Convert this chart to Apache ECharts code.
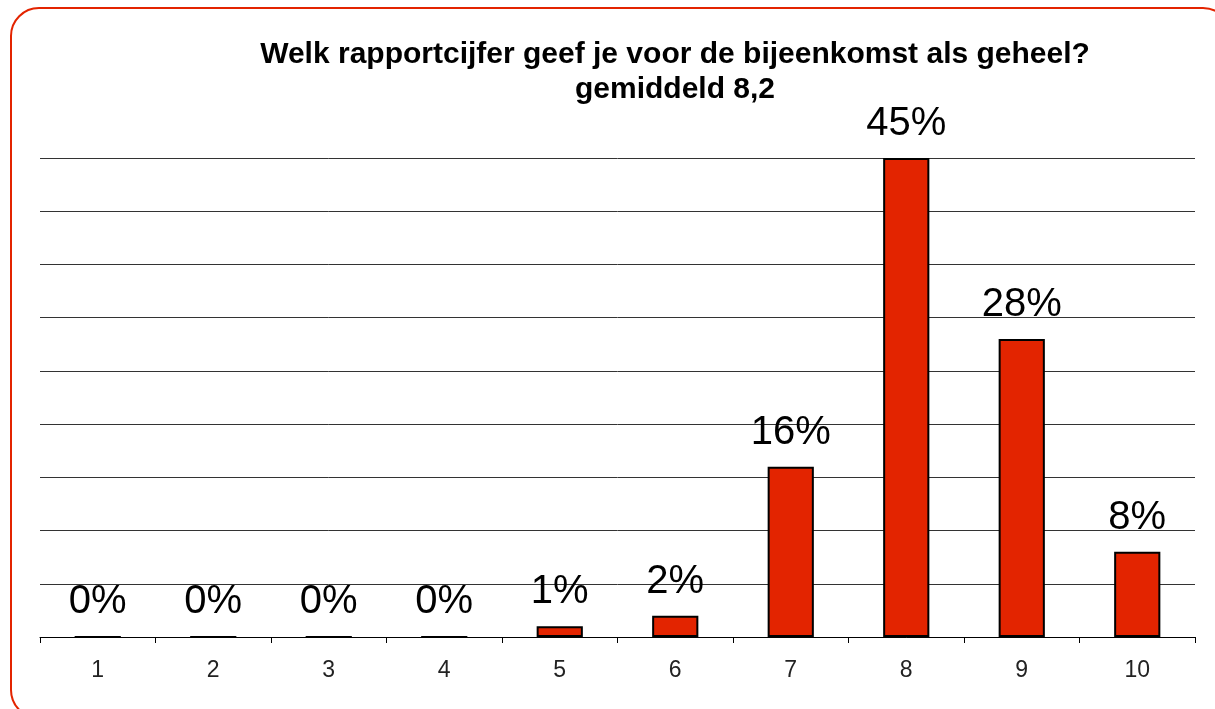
<!DOCTYPE html>
<html>
<head>
<meta charset="utf-8">
<script src="https://cdn.jsdelivr.net/npm/echarts@6/dist/echarts.min.js"></script>
<style>
    html, body { margin: 0; padding: 0; background: #fff; }
    #chart { width: 1215px; height: 709px; }
</style>
</head>
<body>
<div id="chart"></div>
<script>
    // rapportcijfers en percentages
    var categories = ['1', '2', '3', '4', '5', '6', '7', '8', '9', '10'];
    var percentages = [0, 0, 0, 0, 1, 2, 16, 45, 28, 8];
    var titleText = 'Welk rapportcijfer geef je voor de bijeenkomst als geheel?\ngemiddeld 8,2';

    var chart = echarts.init(document.getElementById('chart'));
    var option = {
        animation: false,
        backgroundColor: '#fff',
        title: {
            text: titleText,
            left: 670,
            top: 32,
            textAlign: 'center',
            textStyle: {
                fontFamily: 'Liberation Sans',
                fontWeight: 'bold',
                fontSize: 30,
                lineHeight: 35,
                color: '#000'
            }
        },
        graphic: [{
            type: 'rect',
            shape: { x: 11, y: 8, width: 1220, height: 710, r: 28 },
            style: { fill: 'none', stroke: '#e32400', lineWidth: 2 },
            z: 100
        }],
        grid: {
            left: 40,
            right: 20,
            top: 158,
            bottom: 72
        },
        xAxis: {
            type: 'category',
            data: categories,
            axisLine: { lineStyle: { color: '#000', width: 1 } },
            axisTick: { show: true, length: 6, lineStyle: { color: '#000' } },
            axisLabel: {
                fontFamily: 'Liberation Sans',
                fontSize: 23,
                color: '#222',
                margin: 22
            }
        },
        yAxis: {
            type: 'value',
            min: 0,
            max: 45,
            interval: 5,
            axisLabel: { show: false },
            axisLine: { show: false },
            axisTick: { show: false },
            splitLine: { lineStyle: { color: '#333', width: 1 } }
        },
        series: [{
            type: 'bar',
            data: percentages,
            barWidth: '40%',
            itemStyle: {
                color: '#e32400',
                borderColor: '#000',
                borderWidth: 2
            },
            label: {
                show: true,
                position: 'top',
                distance: 14,
                formatter: '{c}%',
                fontFamily: 'Liberation Sans',
                fontSize: 40,
                color: '#000'
            }
        }]
    };
    chart.setOption(option);
</script>
</body>
</html>
